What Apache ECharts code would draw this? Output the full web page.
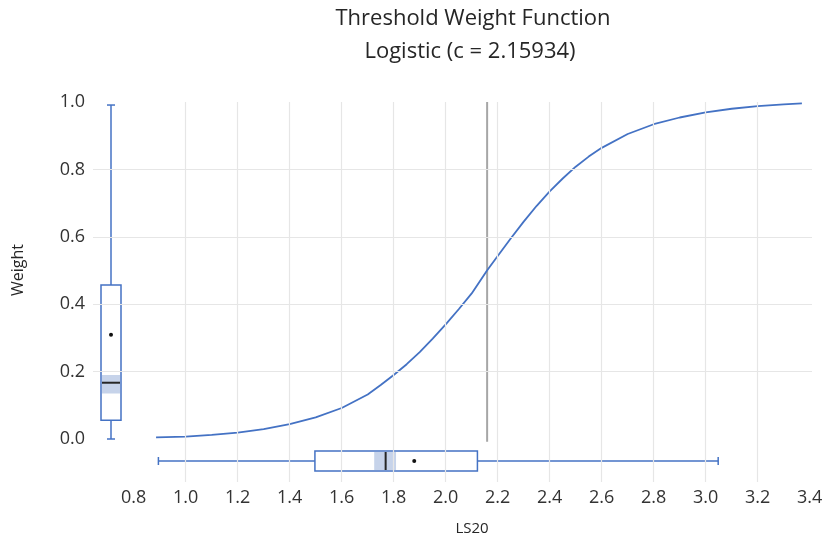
<!DOCTYPE html>
<html>
<head>
<meta charset="utf-8">
<script src="https://cdn.jsdelivr.net/npm/echarts@6/dist/echarts.min.js"></script>
<style>
  html, body { margin: 0; padding: 0; background: #fff; }
  #chart { width: 826px; height: 539px; }
</style>
</head>
<body>
<div id="chart"></div>
<script>
// ---------------- data ----------------
const titleLines = ['Threshold Weight Function', 'Logistic (c = 2.15934)'];
const xAxisName = 'LS20';
const yAxisName = 'Weight';

const thresholdC = 2.15934;
const thresholdSpan = [-0.008, 1.0];

// curve
const ls20Values = [0.886, 1.0, 1.1, 1.2, 1.3, 1.4, 1.5, 1.6, 1.7, 1.75, 1.8, 1.85, 1.9, 1.95, 2.0, 2.05, 2.1, 2.159, 2.2, 2.25, 2.3, 2.35, 2.4, 2.45, 2.5, 2.55, 2.6, 2.7, 2.8, 2.9, 3.0, 3.1, 3.2, 3.3, 3.37];
const weightValues = [0.005, 0.007, 0.012, 0.019, 0.029, 0.044, 0.064, 0.092, 0.132, 0.160, 0.190, 0.222, 0.258, 0.298, 0.340, 0.385, 0.432, 0.500, 0.543, 0.595, 0.645, 0.692, 0.735, 0.773, 0.808, 0.838, 0.864, 0.905, 0.934, 0.954, 0.969, 0.980, 0.988, 0.993, 0.996];

// box plots: [low whisker, Q1, median, Q3, high whisker]
const ls20Box = [0.895, 1.497, 1.769, 2.122, 3.048];
const ls20Mean = 1.879;
const ls20MedianCI = [1.725, 1.809];

const weightBox = [0.0, 0.056, 0.167, 0.457, 0.991];
const weightMean = 0.309;
const weightMedianCI = [0.135, 0.190];

// tick labels / gridlines
const xTickLabels = [0.8, 1.0, 1.2, 1.4, 1.6, 1.8, 2.0, 2.2, 2.4, 2.6, 2.8, 3.0, 3.2, 3.4];
const yTickLabels = [0.0, 0.2, 0.4, 0.6, 0.8, 1.0];
const xGridValues = [1.0, 1.2, 1.4, 1.6, 1.8, 2.0, 2.2, 2.4, 2.6, 2.8, 3.0, 3.2];
const yGridValues = [0.2, 0.4, 0.6, 0.8];

// ---------------- layout / style ----------------
const BLUE = '#4472C4';
const GRID_COLOR = '#e6e6e6';
const SHADE = '#c6d3ea';
const FONT = '"Open Sans", "Noto Sans", sans-serif';
const TICK_COLOR = '#333333';

// plot frame (px)
const plotLeft = 93, plotRight = 812, plotTop = 102, plotBottom = 482;
const pxPerX = 260, xOnePx = 185.7;      // x = 1.0 at 185.7px
const pxPerY = 337, yZeroPx = 439;       // y = 0.0 at 439px
const xMin = 1 + (plotLeft - xOnePx) / pxPerX;
const xMax = 1 + (plotRight - xOnePx) / pxPerX;
const yMax = 1 - (plotTop - (yZeroPx - pxPerY)) / pxPerY;
const yMin = -(plotBottom - yZeroPx) / pxPerY;

// label grid: 0.6..3.4 x, 0..1 y
const lblLeft = xOnePx - 0.4 * pxPerX;
const lblRight = 826 - (xOnePx + 2.4 * pxPerX);
const lblBottom = 539 - yZeroPx;

const boxRowY = -0.0653;   // vertical position of LS20 box
const boxColX = 0.7127;    // horizontal position of Weight box
const BOX_HALF = 10, CAP_HALF = 4;

function hBoxRender(params, api) {
  const v = i => api.value(i);
  const yc = api.coord([v(0), boxRowY])[1];
  const px = val => api.coord([val, boxRowY])[0];
  const lo = px(v(0)), q1 = px(v(1)), med = px(v(2)), q3 = px(v(3)), hi = px(v(4));
  const mean = px(v(5)), ciL = px(v(6)), ciH = px(v(7));
  const ls = { stroke: BLUE, lineWidth: 1.5 };
  return {
    type: 'group',
    children: [
      { type: 'line', shape: { x1: lo, y1: yc, x2: q1, y2: yc }, style: ls },
      { type: 'line', shape: { x1: q3, y1: yc, x2: hi, y2: yc }, style: ls },
      { type: 'line', shape: { x1: lo, y1: yc - CAP_HALF, x2: lo, y2: yc + CAP_HALF }, style: ls },
      { type: 'line', shape: { x1: hi, y1: yc - CAP_HALF, x2: hi, y2: yc + CAP_HALF }, style: ls },
      { type: 'rect', shape: { x: q1, y: yc - BOX_HALF, width: q3 - q1, height: 2 * BOX_HALF }, style: { fill: '#fff', stroke: BLUE, lineWidth: 1.5 } },
      { type: 'rect', shape: { x: ciL, y: yc - BOX_HALF + 1, width: ciH - ciL, height: 2 * BOX_HALF - 2 }, style: { fill: SHADE } },
      { type: 'line', shape: { x1: med, y1: yc - BOX_HALF + 1, x2: med, y2: yc + BOX_HALF - 1 }, style: { stroke: '#262626', lineWidth: 2 } },
      { type: 'circle', shape: { cx: mean, cy: yc, r: 2 }, style: { fill: '#111' } }
    ]
  };
}

function vBoxRender(params, api) {
  const v = i => api.value(i);
  const xc = api.coord([boxColX, v(0)])[0];
  const py = val => api.coord([boxColX, val])[1];
  const lo = py(v(0)), q1 = py(v(1)), med = py(v(2)), q3 = py(v(3)), hi = py(v(4));
  const mean = py(v(5)), ciL = py(v(6)), ciH = py(v(7));
  const ls = { stroke: BLUE, lineWidth: 1.5 };
  return {
    type: 'group',
    children: [
      { type: 'line', shape: { x1: xc, y1: lo, x2: xc, y2: q1 }, style: ls },
      { type: 'line', shape: { x1: xc, y1: q3, x2: xc, y2: hi }, style: ls },
      { type: 'line', shape: { x1: xc - CAP_HALF, y1: lo, x2: xc + CAP_HALF, y2: lo }, style: ls },
      { type: 'line', shape: { x1: xc - CAP_HALF, y1: hi, x2: xc + CAP_HALF, y2: hi }, style: ls },
      { type: 'rect', shape: { x: xc - BOX_HALF, y: q3, width: 2 * BOX_HALF, height: q1 - q3 }, style: { fill: '#fff', stroke: BLUE, lineWidth: 1.5 } },
      { type: 'rect', shape: { x: xc - BOX_HALF + 1, y: ciH, width: 2 * BOX_HALF - 2, height: ciL - ciH }, style: { fill: SHADE } },
      { type: 'line', shape: { x1: xc - BOX_HALF + 1, y1: med, x2: xc + BOX_HALF - 1, y2: med }, style: { stroke: '#262626', lineWidth: 2 } },
      { type: 'circle', shape: { cx: xc, cy: mean, r: 2 }, style: { fill: '#111' } }
    ]
  };
}

const chart = echarts.init(document.getElementById('chart'), null, { renderer: 'canvas' });

const hidden = { axisLine: { show: false }, axisTick: { show: false }, splitLine: { show: false } };

const option = {
  backgroundColor: '#fff',
  animation: false,
  graphic: [
    { type: 'text', x: 473, y: 19, style: { text: titleLines[0], font: '22px ' + FONT, fill: '#262626', textAlign: 'center', textVerticalAlign: 'middle' } },
    { type: 'text', x: 470, y: 52, style: { text: titleLines[1], font: '22px ' + FONT, fill: '#262626', textAlign: 'center', textVerticalAlign: 'middle' } },
    { type: 'text', x: 472, y: 529, style: { text: xAxisName, font: '15px ' + FONT, fill: '#262626', textAlign: 'center', textVerticalAlign: 'middle' } },
    { type: 'text', x: 18, y: 270, rotation: Math.PI / 2, style: { text: yAxisName, font: '16px ' + FONT, fill: '#262626', textAlign: 'center', textVerticalAlign: 'middle' } }
  ],
  grid: [
    { left: plotLeft, right: 826 - plotRight, top: plotTop, bottom: 539 - plotBottom, containLabel: false },
    { left: lblLeft, right: lblRight, top: plotTop, bottom: lblBottom, containLabel: false }
  ],
  xAxis: [
    Object.assign({ type: 'value', gridIndex: 0, min: xMin, max: xMax, axisLabel: { show: false } }, hidden),
    Object.assign({ type: 'value', gridIndex: 1, min: 0.6, max: 3.4, interval: 0.2, position: 'bottom', offset: plotBottom - yZeroPx,
      axisLabel: { show: true, margin: 7, fontSize: 18, fontFamily: FONT, color: TICK_COLOR,
        formatter: val => xTickLabels.some(t => Math.abs(t - val) < 1e-6) ? val.toFixed(1) : '' } }, hidden)
  ],
  yAxis: [
    Object.assign({ type: 'value', gridIndex: 0, min: yMin, max: yMax, axisLabel: { show: false } }, hidden),
    Object.assign({ type: 'value', gridIndex: 1, min: 0, max: 1, interval: 0.2, position: 'left', offset: lblLeft - plotLeft,
      axisLabel: { show: true, margin: 8, fontSize: 18, fontFamily: FONT, color: TICK_COLOR,
        formatter: val => yTickLabels.some(t => Math.abs(t - val) < 1e-6) ? val.toFixed(1) : '' } }, hidden)
  ],
  series: [
    {
      name: 'grid', type: 'line', xAxisIndex: 0, yAxisIndex: 0, data: [], z: 0, silent: true,
      markLine: {
        silent: true, symbol: 'none', animation: false,
        label: { show: false },
        lineStyle: { color: GRID_COLOR, width: 1.2, type: 'solid' },
        data: xGridValues.map(v => ({ xAxis: v })).concat(yGridValues.map(v => ({ yAxis: v })))
      }
    },
    {
      name: 'threshold', type: 'line', xAxisIndex: 0, yAxisIndex: 0, z: 1, silent: true,
      showSymbol: false, symbol: 'none',
      lineStyle: { color: '#a6a6a6', width: 2 },
      data: thresholdSpan.map(w => [thresholdC, w])
    },
    {
      name: 'curve', type: 'line', xAxisIndex: 0, yAxisIndex: 0, z: 3, silent: true,
      showSymbol: false, symbol: 'none', smooth: false,
      lineStyle: { color: BLUE, width: 1.8 },
      data: ls20Values.map((x, i) => [x, weightValues[i]])
    },
    {
      name: 'ls20Box', type: 'custom', xAxisIndex: 0, yAxisIndex: 0, z: 4, clip: false, silent: true,
      renderItem: hBoxRender,
      data: [ls20Box.concat([ls20Mean], ls20MedianCI)]
    },
    {
      name: 'weightBox', type: 'custom', xAxisIndex: 0, yAxisIndex: 0, z: 4, clip: false, silent: true,
      renderItem: vBoxRender,
      data: [weightBox.concat([weightMean], weightMedianCI)]
    }
  ]
};
chart.setOption(option);
</script>
</body>
</html>
